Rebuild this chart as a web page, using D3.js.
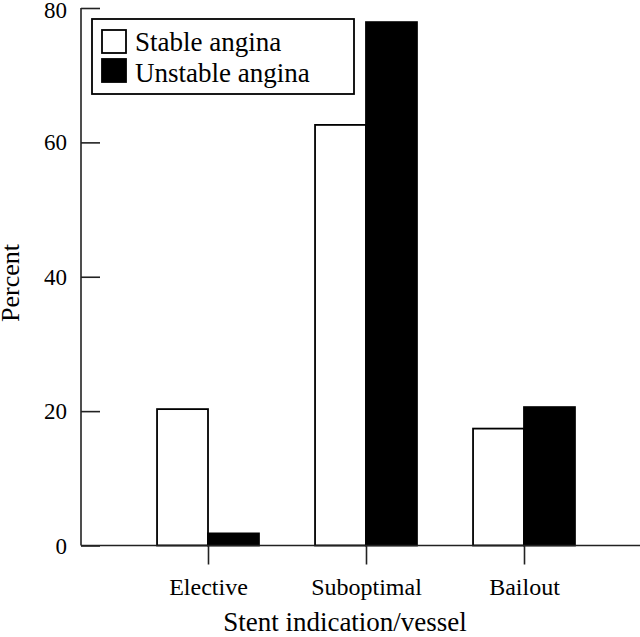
<!DOCTYPE html>
<html><head><meta charset="utf-8">
<script src="https://cdn.jsdelivr.net/npm/d3@7"></script>
<style>body{margin:0;background:#fff}text{font-family:"Liberation Serif","Times New Roman",serif;fill:#000}</style>
</head><body><svg id="c" width="640" height="637"></svg>
<script>
const categories = ["Elective", "Suboptimal", "Bailout"];
const seriesNames = ["Stable angina", "Unstable angina"];
const stable = [20.3, 62.6, 17.4];
const unstable = [1.8, 77.9, 20.6];
const yTicks = [0, 20, 40, 60, 80];

const svg = d3.select("#c");
const x0 = d3.scaleBand().domain(categories).range([129, 603]).paddingInner(0.355).paddingOuter(0.1775);
const x1 = d3.scaleBand().domain(seriesNames).range([0, x0.bandwidth()]);
const y = d3.scaleLinear().domain([0, 80]).range([545.5, 8]);
const axisX = 81;

const data = categories.map((c, i) => ({cat: c, vals: [stable[i], unstable[i]]}));

// bars
const g = svg.append("g");
data.forEach(d => {
  d.vals.forEach((v, j) => {
    g.append("rect")
      .attr("x", x0(d.cat) + x1(seriesNames[j]))
      .attr("y", y(v))
      .attr("width", x1.bandwidth())
      .attr("height", y(0) - y(v))
      .attr("fill", j === 0 ? "#fff" : "#000")
      .attr("stroke", "#000")
      .attr("stroke-width", 1.8);
  });
});

// y axis
const yAxis = d3.axisRight(y).tickValues(yTicks).tickSize(19).tickFormat("");
const ya = svg.append("g").attr("transform", `translate(${axisX},0)`).call(yAxis);
ya.select(".domain").remove();
ya.selectAll("line").attr("stroke", "#222").attr("stroke-width", 1.6);
svg.append("line").attr("x1", axisX).attr("x2", axisX).attr("y1", y(80)).attr("y2", y(0))
  .attr("stroke", "#222").attr("stroke-width", 1.6);
svg.append("g").selectAll("text").data(yTicks).join("text")
  .attr("x", 67).attr("y", d => y(d)).attr("dy", d => d === 80 ? "0.42em" : "0.35em")
  .attr("text-anchor", "end").attr("font-size", 23).text(d => d);

// x axis
svg.append("line").attr("x1", axisX).attr("x2", 640).attr("y1", y(0)).attr("y2", y(0))
  .attr("stroke", "#222").attr("stroke-width", 1.6);
const xa = svg.append("g").attr("transform", `translate(0,${y(0)})`)
  .call(d3.axisBottom(d3.scalePoint().domain(categories).range([x0("Elective") + x0.bandwidth()/2, x0("Bailout") + x0.bandwidth()/2])).tickSize(19).tickPadding(13));
xa.select(".domain").remove();
xa.selectAll("line").attr("stroke", "#222").attr("stroke-width", 1.6);
xa.selectAll("text").attr("font-size", 24).attr("font-family", '"Liberation Serif",serif').attr("fill", "#000");

// axis titles
svg.append("text").attr("x", 345).attr("y", 631).attr("text-anchor", "middle")
  .attr("font-size", 27).text("Stent indication/vessel");
svg.append("text").attr("transform", "translate(19,283) rotate(-90)").attr("text-anchor", "middle")
  .attr("font-size", 26).text("Percent");

// legend
const lg = svg.append("g");
lg.append("rect").attr("x", 92).attr("y", 19).attr("width", 262).attr("height", 75)
  .attr("fill", "#fff").attr("stroke", "#000").attr("stroke-width", 1.8);
seriesNames.forEach((s, j) => {
  lg.append("rect").attr("x", 102).attr("y", 30 + j * 29).attr("width", 24).attr("height", 23)
    .attr("fill", j === 0 ? "#fff" : "#000").attr("stroke", "#000").attr("stroke-width", 1.8);
  lg.append("text").attr("x", 135).attr("y", 51 + j * 31).attr("font-size", 27).text(s);
});
</script></body></html>
